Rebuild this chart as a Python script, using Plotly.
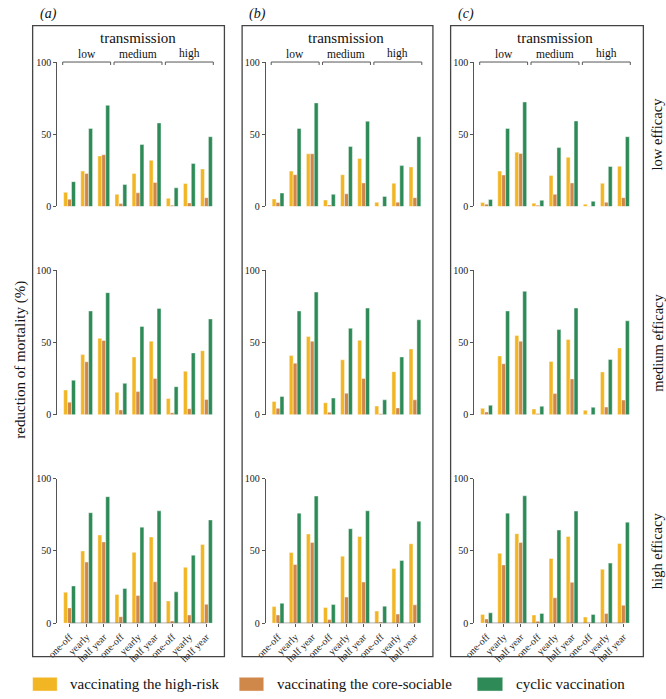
import plotly.graph_objects as go

W, H = 666, 699

categories = ["one-off", "yearly", "half year"] * 3
transmission = ["low", "medium", "high"]
efficacy = ["low efficacy", "medium efficacy", "high efficacy"]
panels = ["(a)", "(b)", "(c)"]
series_names = ["vaccinating the high-risk", "vaccinating the core-sociable", "cyclic vaccination"]
colors = ["#F2B624", "#D0874A", "#2E8B57"]

# Panel (a)
a_low_highrisk = [9.8, 24.5, 35.0, 8.4, 22.9, 32.0, 5.7, 15.9, 26.0]
a_low_core = [5.0, 22.9, 35.8, 2.0, 9.5, 16.6, 0.9, 2.5, 6.1]
a_low_cyclic = [17.2, 54.0, 70.0, 15.2, 42.9, 57.8, 12.9, 29.7, 48.3]
a_med_highrisk = [17.2, 41.7, 53.0, 15.6, 40.1, 51.0, 11.3, 30.2, 44.4]
a_med_core = [8.8, 36.7, 51.5, 3.4, 16.1, 25.2, 1.4, 4.3, 10.7]
a_med_cyclic = [24.0, 71.9, 84.6, 21.8, 61.2, 73.7, 19.5, 42.9, 66.4]
a_high_highrisk = [21.5, 50.0, 61.1, 19.9, 49.1, 59.7, 15.4, 38.7, 54.5]
a_high_core = [10.6, 42.3, 56.3, 4.5, 19.2, 28.7, 1.6, 5.7, 13.1]
a_high_cyclic = [25.8, 76.5, 87.6, 24.0, 66.5, 77.8, 21.7, 47.1, 71.5]

# Panel (b)
b_low_highrisk = [5.2, 24.5, 36.5, 4.5, 22.0, 33.3, 2.9, 16.1, 27.4]
b_low_core = [2.7, 22.0, 36.5, 1.1, 8.8, 16.3, 0.2, 2.9, 6.1]
b_low_cyclic = [9.3, 54.0, 71.7, 8.4, 41.5, 59.0, 7.0, 28.3, 48.3]
b_med_highrisk = [9.3, 41.0, 54.2, 8.4, 38.1, 51.7, 6.1, 29.9, 45.6]
b_med_core = [4.5, 35.8, 51.0, 1.8, 15.0, 25.2, 0.7, 4.8, 10.4]
b_med_cyclic = [12.7, 71.9, 85.0, 11.6, 59.9, 73.9, 10.4, 40.1, 65.8]
b_high_highrisk = [11.5, 48.9, 61.8, 10.9, 46.4, 60.0, 8.4, 37.8, 55.0]
b_high_core = [5.7, 40.7, 55.9, 2.5, 18.1, 28.5, 0.9, 6.3, 12.7]
b_high_cyclic = [13.8, 76.2, 88.0, 12.9, 65.4, 77.8, 11.8, 43.4, 70.6]

# Panel (c)
c_low_highrisk = [2.7, 24.5, 37.6, 2.3, 21.5, 34.0, 1.6, 16.1, 27.9]
c_low_core = [1.6, 21.8, 36.7, 0.9, 8.4, 16.3, 0.2, 2.9, 6.1]
c_low_cyclic = [4.8, 54.0, 72.3, 4.3, 40.8, 59.2, 3.6, 27.7, 48.3]
c_med_highrisk = [4.5, 40.8, 54.9, 4.1, 37.0, 52.2, 3.2, 29.7, 46.3]
c_med_core = [2.0, 35.4, 51.0, 0.9, 14.7, 24.9, 0.2, 5.4, 10.2]
c_med_cyclic = [6.6, 71.9, 85.5, 5.9, 59.0, 73.9, 5.2, 38.3, 65.1]
c_high_highrisk = [6.1, 48.4, 62.0, 5.7, 44.8, 60.0, 4.3, 37.3, 55.2]
c_high_core = [2.9, 40.3, 55.9, 1.4, 17.6, 28.3, 0.5, 6.8, 12.4]
c_high_cyclic = [7.2, 76.2, 88.2, 6.8, 64.5, 77.6, 6.1, 41.6, 69.9]

data = [
    [  # row: low efficacy
        [a_low_highrisk, a_low_core, a_low_cyclic],
        [b_low_highrisk, b_low_core, b_low_cyclic],
        [c_low_highrisk, c_low_core, c_low_cyclic],
    ],
    [
        [a_med_highrisk, a_med_core, a_med_cyclic],
        [b_med_highrisk, b_med_core, b_med_cyclic],
        [c_med_highrisk, c_med_core, c_med_cyclic],
    ],
    [
        [a_high_highrisk, a_high_core, a_high_cyclic],
        [b_high_highrisk, b_high_core, b_high_cyclic],
        [c_high_highrisk, c_high_core, c_high_cyclic],
    ],
]

FONT = "Liberation Serif, Times New Roman, serif"
xs = list(range(len(categories)))

# layout geometry (pixels)
col_x0 = [47, 259, 471]
step = 17.4
x_lo, x_hi = -0.72, 8.72
plot_w = (x_hi - x_lo) * step
row_y = [(57, 204), (269, 416), (481, 628)]  # (y of 100, y of 0)
boxes = [(22, 217), (235, 429), (447, 643)]
box_top, box_bot = 20, 662


def px(x):
    return x / W


def py(y):
    return 1 - y / H


fig = go.Figure()
layout = {}
shapes = []
annotations = []

for r in range(3):
    for c in range(3):
        k = r * 3 + c + 1
        xa = "x" if k == 1 else f"x{k}"
        ya = "y" if k == 1 else f"y{k}"
        for s in range(3):
            fig.add_trace(go.Bar(
                x=xs, y=data[r][c][s], name=series_names[s],
                marker=dict(color=colors[s], line=dict(color="rgba(255,255,255,0.7)", width=0.6)),
                xaxis=xa, yaxis=ya, showlegend=False,
            ))
        bottom = r == 2
        layout["xaxis" if k == 1 else f"xaxis{k}"] = dict(
            domain=[px(col_x0[c]), px(col_x0[c] + plot_w)],
            range=[x_lo, x_hi], anchor=ya,
            showline=False, showgrid=False, zeroline=False,
            tickmode="array", tickvals=xs,
            ticktext=categories if bottom else [""] * 9,
            showticklabels=bottom,
            ticks="outside" if bottom else "", ticklen=3, tickcolor="#555",
            tickangle=-45, tickfont=dict(family=FONT, size=10, color="#222"),
            fixedrange=True,
        )
        layout["yaxis" if k == 1 else f"yaxis{k}"] = dict(
            domain=[py(row_y[r][1]), py(row_y[r][0])],
            range=[0, 100], anchor=xa,
            showline=True, linecolor="#555", linewidth=1,
            showgrid=False, zeroline=False,
            tickmode="array", tickvals=[0, 50, 100],
            ticks="outside", ticklen=3, tickcolor="#555",
            tickfont=dict(family=FONT, size=10, color="#222"),
            fixedrange=True,
        )
        if bottom:
            shapes.append(dict(type="line", xref=xa, yref=ya, x0=0, x1=8, y0=0, y1=0,
                               line=dict(color="#555", width=1)))

# panel boxes, labels, brackets
for c in range(3):
    bx0, bx1 = boxes[c]
    shapes.append(dict(type="rect", xref="paper", yref="paper",
                       x0=px(bx0), x1=px(bx1), y0=py(box_bot), y1=py(box_top),
                       line=dict(color="#444", width=1.3)))
    annotations.append(dict(text=f"<i>{panels[c]}</i>", xref="paper", yref="paper",
                            x=px(bx0 + 5), y=py(8), xanchor="left", yanchor="middle",
                            showarrow=False, font=dict(family=FONT, size=14, color="#111")))
    xa = "x" if c == 0 else f"x{c + 1}"
    annotations.append(dict(text="transmission", xref=xa, yref="paper",
                            x=4, y=py(33), xanchor="center", yanchor="middle",
                            showarrow=False, font=dict(family=FONT, size=15, color="#111")))
    for g in range(3):
        g0, g1 = g * 3 - 0.4, g * 3 + 2.4
        shapes.append(dict(type="line", xref=xa, yref="paper", x0=g0, x1=g1,
                           y0=py(57), y1=py(57), line=dict(color="#555", width=1)))
        for gx in (g0, g1):
            shapes.append(dict(type="line", xref=xa, yref="paper", x0=gx, x1=gx,
                               y0=py(57), y1=py(60), line=dict(color="#555", width=1)))
        annotations.append(dict(text=transmission[g], xref=xa, yref="paper",
                                x=g * 3 + 1, y=py(48.5), xanchor="center", yanchor="middle",
                                showarrow=False, font=dict(family=FONT, size=11.5, color="#111")))

# efficacy strip labels
for r in range(3):
    annotations.append(dict(text=efficacy[r], xref="paper", yref="paper",
                            x=px(657), y=py((row_y[r][0] + row_y[r][1]) / 2),
                            xanchor="center", yanchor="middle", textangle=-90,
                            showarrow=False, font=dict(family=FONT, size=14.5, color="#111")))

# y title
annotations.append(dict(text="reduction of mortality (%)", xref="paper", yref="paper",
                        x=px(10), y=py(360), xanchor="center", yanchor="middle", textangle=-90,
                        showarrow=False, font=dict(family=FONT, size=15, color="#111")))

# legend
leg_sq = [(22, 47), (232, 257), (474, 500)]
leg_tx = [58, 268, 511]
for s in range(3):
    x0, x1 = leg_sq[s]
    shapes.append(dict(type="rect", xref="paper", yref="paper",
                       x0=px(x0), x1=px(x1), y0=py(697), y1=py(683),
                       fillcolor=colors[s], line=dict(color="rgba(255,255,255,0.7)", width=0.6)))
    annotations.append(dict(text=series_names[s], xref="paper", yref="paper",
                            x=px(leg_tx[s]), y=py(690), xanchor="left", yanchor="middle",
                            showarrow=False, font=dict(family=FONT, size=15, color="#111")))

fig.update_layout(
    **layout,
    width=W, height=H,
    margin=dict(l=0, r=0, t=0, b=0),
    paper_bgcolor="white", plot_bgcolor="white",
    barmode="group", bargap=0.31, bargroupgap=0.0,
    shapes=shapes, annotations=annotations,
    showlegend=False,
)

fig.write_html(
    "out.html",
    config={"displayModeBar": False},
    post_script="document.body.style.margin='0';document.body.style.padding='0';"
                "document.documentElement.style.overflow='hidden';",
)
